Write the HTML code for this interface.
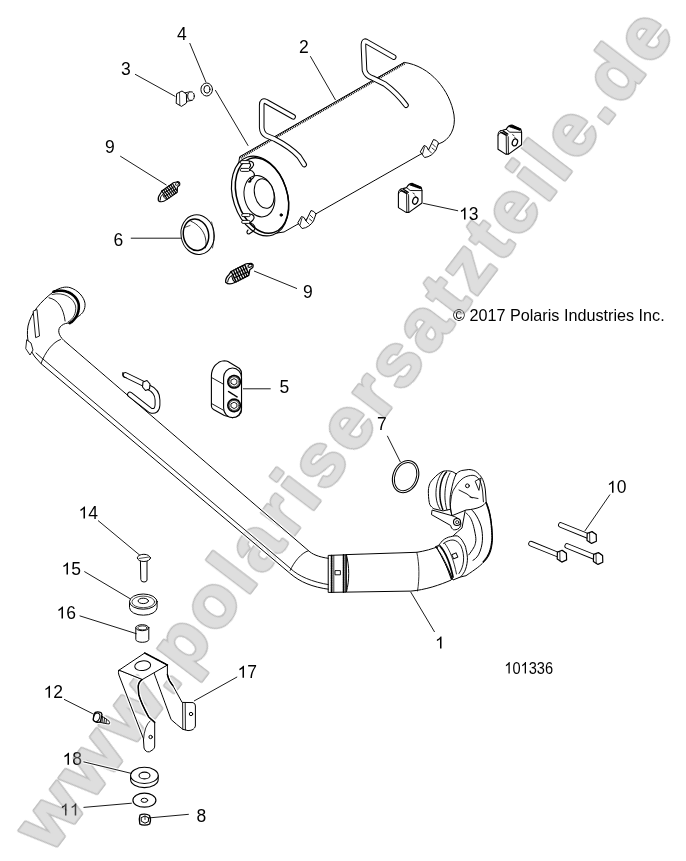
<!DOCTYPE html>
<html><head><meta charset="utf-8">
<style>
html,body{margin:0;padding:0;background:#fff;width:686px;height:861px;overflow:hidden}
svg{display:block}
#labels{will-change:transform}
</style></head><body>
<svg width="686" height="861" viewBox="0 0 686 861">
<rect width="686" height="861" fill="#fff"/>
<!-- LABELS -->
<g id="labels" font-family="Liberation Sans, sans-serif" font-size="17.5" fill="#000" opacity="0.999">
<text x="299.0" y="52.7">2</text>
<text x="121.0" y="75.1">3</text>
<text x="177.0" y="40.1">4</text>
<text x="105.0" y="152.9">9</text>
<text x="113.5" y="246.3">6</text>
<text x="303.0" y="298.2">9</text>
<path d="M0.3726,0.0000H0.2847V-0.5360Q0.2529,-0.5070 0.2014,-0.4780Q0.1499,-0.4491 0.1089,-0.4346V-0.5159Q0.1826,-0.5491 0.2378,-0.5963Q0.2930,-0.6435 0.3159,-0.6878H0.3726Z" transform="translate(459.0,219.6) scale(17.5)"/>
<text x="468.73" y="219.6">3</text>
<text x="279.5" y="393">5</text>
<text x="377.0" y="430">7</text>
<path d="M0.3726,0.0000H0.2847V-0.5360Q0.2529,-0.5070 0.2014,-0.4780Q0.1499,-0.4491 0.1089,-0.4346V-0.5159Q0.1826,-0.5491 0.2378,-0.5963Q0.2930,-0.6435 0.3159,-0.6878H0.3726Z" transform="translate(607.0,492.7) scale(17.5)"/>
<text x="616.73" y="492.7">0</text>
<path d="M0.3726,0.0000H0.2847V-0.5360Q0.2529,-0.5070 0.2014,-0.4780Q0.1499,-0.4491 0.1089,-0.4346V-0.5159Q0.1826,-0.5491 0.2378,-0.5963Q0.2930,-0.6435 0.3159,-0.6878H0.3726Z" transform="translate(78.5,518.5) scale(17.5)"/>
<text x="88.23" y="518.5">4</text>
<path d="M0.3726,0.0000H0.2847V-0.5360Q0.2529,-0.5070 0.2014,-0.4780Q0.1499,-0.4491 0.1089,-0.4346V-0.5159Q0.1826,-0.5491 0.2378,-0.5963Q0.2930,-0.6435 0.3159,-0.6878H0.3726Z" transform="translate(61.5,574.6) scale(17.5)"/>
<text x="71.23" y="574.6">5</text>
<path d="M0.3726,0.0000H0.2847V-0.5360Q0.2529,-0.5070 0.2014,-0.4780Q0.1499,-0.4491 0.1089,-0.4346V-0.5159Q0.1826,-0.5491 0.2378,-0.5963Q0.2930,-0.6435 0.3159,-0.6878H0.3726Z" transform="translate(56.5,618.5) scale(17.5)"/>
<text x="66.23" y="618.5">6</text>
<path d="M0.3726,0.0000H0.2847V-0.5360Q0.2529,-0.5070 0.2014,-0.4780Q0.1499,-0.4491 0.1089,-0.4346V-0.5159Q0.1826,-0.5491 0.2378,-0.5963Q0.2930,-0.6435 0.3159,-0.6878H0.3726Z" transform="translate(435.0,648.6) scale(17.5)"/>
<path d="M0.3726,0.0000H0.2847V-0.5360Q0.2529,-0.5070 0.2014,-0.4780Q0.1499,-0.4491 0.1089,-0.4346V-0.5159Q0.1826,-0.5491 0.2378,-0.5963Q0.2930,-0.6435 0.3159,-0.6878H0.3726Z" transform="translate(237.5,677.8) scale(17.5)"/>
<text x="247.23" y="677.8">7</text>
<path d="M0.3726,0.0000H0.2847V-0.5360Q0.2529,-0.5070 0.2014,-0.4780Q0.1499,-0.4491 0.1089,-0.4346V-0.5159Q0.1826,-0.5491 0.2378,-0.5963Q0.2930,-0.6435 0.3159,-0.6878H0.3726Z" transform="translate(43.5,697.7) scale(17.5)"/>
<text x="53.23" y="697.7">2</text>
<path d="M0.3726,0.0000H0.2847V-0.5360Q0.2529,-0.5070 0.2014,-0.4780Q0.1499,-0.4491 0.1089,-0.4346V-0.5159Q0.1826,-0.5491 0.2378,-0.5963Q0.2930,-0.6435 0.3159,-0.6878H0.3726Z" transform="translate(62.5,764.8) scale(17.5)"/>
<text x="72.23" y="764.8">8</text>
<path d="M0.3726,0.0000H0.2847V-0.5360Q0.2529,-0.5070 0.2014,-0.4780Q0.1499,-0.4491 0.1089,-0.4346V-0.5159Q0.1826,-0.5491 0.2378,-0.5963Q0.2930,-0.6435 0.3159,-0.6878H0.3726Z" transform="translate(60.0,815.6) scale(17.5)"/>
<path d="M0.3726,0.0000H0.2847V-0.5360Q0.2529,-0.5070 0.2014,-0.4780Q0.1499,-0.4491 0.1089,-0.4346V-0.5159Q0.1826,-0.5491 0.2378,-0.5963Q0.2930,-0.6435 0.3159,-0.6878H0.3726Z" transform="translate(69.73,815.6) scale(17.5)"/>
<text x="196.5" y="821.8">8</text>
<g transform="translate(504.3,673.6) scale(0.87,1)" font-size="16.8"><path d="M0.3726,0.0000H0.2847V-0.5360Q0.2529,-0.5070 0.2014,-0.4780Q0.1499,-0.4491 0.1089,-0.4346V-0.5159Q0.1826,-0.5491 0.2378,-0.5963Q0.2930,-0.6435 0.3159,-0.6878H0.3726Z" transform="translate(0.0,0) scale(16.8)"/><text x="9.34" y="0">0</text><path d="M0.3726,0.0000H0.2847V-0.5360Q0.2529,-0.5070 0.2014,-0.4780Q0.1499,-0.4491 0.1089,-0.4346V-0.5159Q0.1826,-0.5491 0.2378,-0.5963Q0.2930,-0.6435 0.3159,-0.6878H0.3726Z" transform="translate(18.68,0) scale(16.8)"/><text x="28.02" y="0">3</text><text x="37.36" y="0">3</text><text x="46.7" y="0">6</text></g>
<text x="453" y="320.8" font-size="16.2">© 2017 Polaris Industries Inc.</text>
</g>
<!-- WATERMARK -->
<g opacity="0.38" transform="translate(61.5,839.6) rotate(-52.67)" font-family="Liberation Sans, sans-serif" font-weight="bold" font-size="74.0" stroke-linejoin="round" style="font-kerning:none">
<g transform="scale(1.065,1)"><text x="-17.0 45.1 107.2" y="0" fill="#555555" stroke="#555555" stroke-width="3.9">www</text></g>
<text x="180.3 205.63 255.6 305.58 330.91 376.84 410.41 435.74 481.66 527.59 561.16 607.09 653.01 682.42 724.19 753.61 799.53 824.87 850.2 896.12 921.45 971.43" y="0" fill="#555555" stroke="#555555" stroke-width="3.9">.polarisersatzteile.de</text>
<g transform="scale(1.065,1)"><text x="-17.0 45.1 107.2" y="0" fill="#a8a8a8" stroke="#a8a8a8" stroke-width="1.1">www</text></g>
<text x="180.3 205.63 255.6 305.58 330.91 376.84 410.41 435.74 481.66 527.59 561.16 607.09 653.01 682.42 724.19 753.61 799.53 824.87 850.2 896.12 921.45 971.43" y="0" fill="#a8a8a8" stroke="#a8a8a8" stroke-width="1.1">.polarisersatzteile.de</text>
</g>
<filter id="lines" x="0" y="0" width="686" height="861" filterUnits="userSpaceOnUse" color-interpolation-filters="sRGB">
<feColorMatrix in="SourceGraphic" type="matrix" values="0 0 0 0 0  0 0 0 0 0  0 0 0 0 0  -0.3 -0.59 -0.11 1 0" result="ink"/>
<feMorphology in="ink" operator="dilate" radius="0.9" result="d"/>
<feFlood flood-color="#fff" result="f"/>
<feComposite in="f" in2="d" operator="in" result="w"/>
<feMerge><feMergeNode in="w"/><feMergeNode in="ink"/></feMerge>
</filter>
<g filter="url(#lines)">
<!-- PARTS -->
<g id="parts" fill="#fff" stroke="#000" stroke-width="1" stroke-linejoin="round" stroke-linecap="round">
<!-- ===== MUFFLER 2 ===== -->
<path d="M240,156.5 L404.2,62.4 C430,66 450,90 454,115 C456,128 450,140 439.2,143.7 L284,232 L270,234 L235,190 Z"/>
<path d="M240.5,157.6 L404.4,63.4" fill="none" stroke-width="2.4" stroke-dasharray="1 0.9" stroke-linecap="butt"/>
<!-- front face -->
<ellipse cx="260.1" cy="196" rx="27" ry="41" transform="rotate(-18 260.1 196)" stroke-width="1.2"/>
<ellipse cx="262" cy="195.5" rx="25" ry="38.8" transform="rotate(-18 262 195.5)" fill="none" stroke-width="1.5"/>
<ellipse cx="259.4" cy="196.2" rx="15" ry="21" transform="rotate(-14 259.4 196.2)"/>
<ellipse cx="264.2" cy="193.6" rx="9.6" ry="15" transform="rotate(-14 264.2 193.6)"/>
<circle cx="281.2" cy="215" r="1.2" fill="#000"/>
<!-- face clips -->
<g fill="#fff" stroke-width="0.9">
<rect x="240.2" y="160.6" width="9.5" height="3" rx="1.4"/>
<rect x="240.2" y="168.4" width="9.5" height="3" rx="1.4"/>
<path d="M249,161 C253,161 255,164 252.5,167 L249.5,170 C254,171 256,175 253,178 L248.5,182 C251,182.5 252,180 250,178 M249,163 C251,164 251,166 249.5,167.5" fill="none" stroke-width="1.1"/>
<rect x="241.6" y="213.6" width="8.5" height="3" rx="1.4"/>
<rect x="241.6" y="220.4" width="8.5" height="3" rx="1.4"/>
<path d="M249.5,214 C253.5,214 255.5,217 253,220 L250,223 C254.5,224 256.5,228 253.5,231 L249,234 C247,234 246,232 248,230" fill="none" stroke-width="1.1"/>
</g>
<!-- bottom clips -->
<g id="mclip">
<path d="M298,222.5 L301.5,216.5 L304,217.5 L306,221 L311,210.5 L313.8,211.5 L316,214 L313.5,221 C311,225 307,228 302.5,228.5 Z" stroke-width="1"/>
<path d="M302,218 L300,225 M306,221 L309,224 M310,215 L313,218 M309.5,219 L312,221" fill="none" stroke-width="0.8"/>
</g>
<use href="#mclip" transform="translate(122.5,-71)"/>
<!-- handles -->
<g fill="none" stroke-linecap="round">
<path d="M293.1,116.8 L266.3,101.7 Q261.7,99.5 261.7,105.2 L261.7,127.3 Q262,133 266,135.5 L274.5,139 Q290,147 299,156.5 L304.2,164.6" stroke="#000" stroke-width="5.6"/>
<path d="M293.1,116.8 L266.3,101.7 Q261.7,99.5 261.7,105.2 L261.7,127.3 Q262,133 266,135.5 L274.5,139 Q290,147 299,156.5 L304.2,164.6" stroke="#fff" stroke-width="3.6"/>
<path d="M393.7,57.1 L366,41.4 Q363,40 363.5,47.5 L364.5,70.2 Q366,76 372.7,78.1 L385,84.2 Q397,93 406,105.2" stroke="#000" stroke-width="5.6"/>
<path d="M393.7,57.1 L366,41.4 Q363,40 363.5,47.5 L364.5,70.2 Q366,76 372.7,78.1 L385,84.2 Q397,93 406,105.2" stroke="#fff" stroke-width="3.6"/>
</g>
<!-- ===== BOLT 3, WASHER 4 ===== -->
<path d="M184,93 L190,91.8 L192,100.4 L186,101.5 Z" stroke-width="0.9"/>
<ellipse cx="191" cy="96.1" rx="3.3" ry="4.3"/>
<path d="M177,93.5 L182,91 L186.4,94 L186.6,103 L181.5,106.4 L176.5,103.5 Z"/>
<path d="M179.5,92.5 L179.8,105" fill="none" stroke-width="0.7"/>
<ellipse cx="206.7" cy="89.5" rx="5.8" ry="6.5"/>
<ellipse cx="206.9" cy="89.3" rx="3" ry="3.8"/>
<path d="M215.5,90.4 L248,145.5" fill="none" stroke-width="0.9"/>
<!-- ===== SPRINGS 9 ===== -->
<g transform="translate(168.4,192.2) rotate(-29) scale(0.86)">
<path d="M-15,3 Q-14,-1 -9,-3 L-6,-5 L8,-6.5 Q11,-7.5 13,-6 L15.5,-5.5 Q18,-3.5 15.5,-1 L12,0 L9,5 L-6,6.5 Q-13,7.5 -15,3 Z" stroke-width="1.3"/>
<path d="M-6,-5 L-5,6.5 M-3.5,-5.3 L-2.5,6.3 M-1,-5.6 L0,6 M1.5,-5.9 L2.5,5.8 M4,-6.2 L5,5.5 M6.5,-6.4 L7.2,5.2 M9,-6.6 L9.5,3.5" fill="none" stroke-width="1.4"/>
<path d="M-6,-1.5 L10,-2.5 M-6,2 L9.5,1.2" fill="none" stroke-width="1"/>
<path d="M-13,3.5 Q-11,-0.5 -7,-1 Q-8,3 -6.5,6" fill="none" stroke-width="1"/>
<ellipse cx="13.6" cy="-3.6" rx="2.2" ry="1.4" fill="#fff" stroke-width="1"/>
</g>
<g transform="translate(238.6,274) rotate(-21)">
<path d="M-15,3 Q-14,-1 -9,-3 L-6,-5 L8,-6.5 Q11,-7.5 13,-6 L15.5,-5.5 Q18,-3.5 15.5,-1 L12,0 L9,5 L-6,6.5 Q-13,7.5 -15,3 Z" stroke-width="1.3"/>
<path d="M-6,-5 L-5,6.5 M-3.5,-5.3 L-2.5,6.3 M-1,-5.6 L0,6 M1.5,-5.9 L2.5,5.8 M4,-6.2 L5,5.5 M6.5,-6.4 L7.2,5.2 M9,-6.6 L9.5,3.5" fill="none" stroke-width="1.4"/>
<path d="M-6,-1.5 L10,-2.5 M-6,2 L9.5,1.2" fill="none" stroke-width="1"/>
<path d="M-13,3.5 Q-11,-0.5 -7,-1 Q-8,3 -6.5,6" fill="none" stroke-width="1"/>
<ellipse cx="13.6" cy="-3.6" rx="2.2" ry="1.4" fill="#fff" stroke-width="1"/>
</g>
<!-- ===== RING 6 ===== -->
<ellipse cx="197.6" cy="234.6" rx="16.6" ry="19.9" transform="rotate(-10 197.6 234.6)"/>
<ellipse cx="196" cy="234.8" rx="12.6" ry="15.8" transform="rotate(-12 196 234.8)" stroke-width="1.5"/>
<path d="M190.8,221.2 C198,224 204,231 205.4,238 C206.5,243 206,246 205.4,248" fill="none" stroke-width="0.8"/>
<path d="M211.6,222 C214,230 214.5,240 212.5,248" fill="none" stroke-width="0.7"/>
<path d="M184.5,227.5 L190,225.5" fill="none" stroke-width="0.7"/>
<!-- ===== RUBBER 13 ===== -->
<g id="rub">
<path d="M398.4,193.5 C398.4,190.5 400.5,188.6 403,188.6 L406.6,187.6 C408,185 410,183.4 412.4,183.4 L420,186.8 C421.6,187.8 422,189 422,190.6 L422,203 L409,212.4 L406,212.4 L400,208.6 L398.4,207.6 Z" stroke-width="1.1"/>
<path d="M406.6,193.2 L406.8,212.2 M408.6,195.5 L408.8,212.3" fill="none" stroke-width="0.9"/>
<path d="M398.6,193.6 C400,190 404,189.4 408.4,194.6 M406.6,187.6 L410.2,190.5 L422,190.6" fill="none" stroke-width="0.9"/>
<path d="M401,190.4 L406.4,193.4 M403.4,189.2 L408.2,192.4" fill="none" stroke-width="1.3"/>
<path d="M410.2,184.8 L420.2,188.4 M411.8,184 L421,187.5" fill="none" stroke-width="1.4" stroke-dasharray="1.4 0.9"/>
<ellipse cx="415.3" cy="200.7" rx="2.5" ry="3.6" transform="rotate(20 415.3 200.7)" fill="none" stroke-width="1.3"/>
<path d="M413,193 L414.5,194 M415,196 L416,196.5" fill="none" stroke-width="0.8"/>
</g>
<use href="#rub" transform="translate(99.6,-58.3)"/>
<!-- ===== PIPE 1 ===== -->
<path d="M53.5,291.7 C40,302 31,313 28,326 C26,338 29,349 35,357 L41,363.6 L290.2,573.5 C300,582 312,587 329.5,589.4 L329.5,558.5 C318,557 312,554 308.5,550.7 L64,340.6 C58,335 57,329 61.6,325.5 C64,323.5 67,323 69.8,323.1 C76,319.5 79.8,312 78.6,304 C76.5,295 66,288 53.5,291.7 Z"/>
<path d="M36,353 L41,357.4 L290.2,568.2 C298,576 312,582 329.5,584.8" fill="none" stroke-width="0.9"/>
<path d="M49,297.8 C58,299.5 63.5,308 65.1,321" fill="none" stroke-width="0.9"/>
<path d="M60.5,339.5 C53,342 45,352 41,363.6" fill="none" stroke-width="0.9"/>
<path d="M308.5,550.7 C301,553 294,562 290.2,570.4" fill="none" stroke-width="0.9"/>
<!-- inlet flange and cap -->
<path d="M53.5,291.7 C60,287 66,286.5 70,287.6 C78,290 84,297 85,303.3 C85.5,309 83,314 78,316.5 L69.8,323.1 C77,318 80,310 78.6,303 C76.5,295 68,288 53.5,291.7 Z"/>
<path d="M53.5,291.7 C66,288 76.5,295 78.6,304 C79.8,312 76,319.5 69.8,323.1" fill="none" stroke-width="2.6" stroke-dasharray="1.2 0.6"/>
<path d="M52,294.5 C64,291.5 73.5,298 75.6,306 C76.5,313 73.5,319 68,322" fill="none" stroke-width="0.8"/>
<!-- inlet pins -->
<path d="M33.5,311 L37,309.5 L39.5,336 L36,337.5 Z" stroke-width="0.9"/>
<path d="M27,340 L31,343 L33,350 L30,355 L26,349 Z" stroke-width="0.9"/>
<!-- clamp at bend -->
<path d="M328.6,555.4 L346.4,554.8 L346.4,592.1 L328.6,592.4 Z"/>
<path d="M331.6,555.6 L331.6,592.2 M343.6,555 L343.6,592.1" fill="none" stroke-width="1.8" stroke-dasharray="1.6 0.8"/>
<path d="M333.8,555.5 L333.8,592.2 M345.6,555 L345.6,592.1" fill="none" stroke-width="0.8"/>
<rect x="335.4" y="570.6" width="5" height="4.2" stroke-width="0.9"/>
<!-- hose -->
<path d="M346.4,554.6 L416.8,552.3 C425,551 432,549 439.3,546.2 L451.5,579.9 C440,585 425,590 410.7,591.1 L346.4,592.1 C349.5,580 349.5,567 346.4,554.6 Z"/>
<path d="M416.8,552.3 C419.5,564 419.5,579 417.5,591" fill="none" stroke-width="0.8"/>
<!-- right clamp -->
<path d="M436,546.5 C440,544.5 444,543.5 447.5,541.5 C453,548 458,560 458,570 L452.5,579 C448,570 443,558 436,546.5 Z"/>
<path d="M447.5,541.5 C450.5,539.5 453.5,538.5 456.5,539.5 C462,546 466,558 465,566 C463,571 460,574 458,575" fill="none" stroke-width="0.9"/>
<path d="M440,545 C446,553 450,564 452,575" fill="none" stroke-width="1.8" stroke-dasharray="1.4 0.8"/>
<path d="M445,543 C451,551 455,562 456,573" fill="none" stroke-width="0.8"/>
<rect x="453.6" y="555.4" width="5" height="5" transform="rotate(-25 456 558)" stroke-width="0.9"/>
<!-- elbow -->
<!-- tube -->
<path d="M446,545 C450,538 456,533 462,528 L466,506 L486.2,501.8 C489.7,510 491.8,520 492.5,538 C492,550 489.7,556 484.1,561.7 C480,566 476,569 466,575.7 L452,579 Z"/>
<path d="M466,506 C472,508 478,516 481.3,526.9 C483,535 483.5,545 478.5,554.8 C476.5,558 474.5,559.5 473,560.3" fill="none" stroke-width="1"/>
<path d="M466,513 C470,516 473,520 475.7,536.7 C476.5,542 474.4,546.4 474.4,546.4 C472,551 470,553 468.8,554.8" fill="none" stroke-width="1"/>
<path d="M486.2,503 C489.7,512 491.8,522 492,538 C491.5,550 488,557 483,562" fill="none" stroke-width="1.5" stroke-dasharray="1.4 1"/>
<!-- boss -->
<path d="M456.2,473.9 L452.8,471.8 C449,470.5 446,470.6 443.7,471.1 C440,472.5 437.5,474.5 435.3,476.7 C432,480 430.5,482 429.8,483.7 C428.5,487 428.2,490 428.4,493.4 C428.5,498 429,502 429.8,504.6 C431,506.5 432.5,508 433.9,508.8 L443,510.9 L456,508 Z"/>
<path d="M443.7,471.1 C438,476 435.5,486 436,496 C436.5,502 438,506 440,509" fill="none" stroke-width="0.9"/>
<path d="M446.5,472 C441,478 439.5,488 440,497 C440.5,503 441.5,506 443,510" fill="none" stroke-width="1.5" stroke-dasharray="1.2 0.8"/>
<path d="M450,473 C446,480 444.5,490 445,499 C445.5,504 446,507 447,510" fill="none" stroke-width="0.9"/>
<!-- flange -->
<path d="M456.2,473.9 C458,472 460,471 461.8,470.5 L468.8,469.5 C472,469.6 475,470.5 477.1,472.5 C480,475 481.5,477 482.7,479.5 C484.5,484 485.3,488 485.5,492 L486.2,501.8 C484,506 478,509 466,510 L452,515.7 C449.5,508 449.5,498 451,492 C452.5,484 454,478 456.2,473.9 Z"/>
<path d="M452,515.7 C450.5,510 450,505 450.7,501.8 C451.5,494 452.5,491 454.8,487.9 C457.5,483 460,480.5 463.2,478.1 C466.5,476 470,475.3 473,475.3 C476,475.5 478.5,478 480,480.9 C481.5,484 482.2,488 482.7,492 L483.4,501.8" fill="none" stroke-width="0.9"/>
<circle cx="467.4" cy="485.8" r="1.9" fill="none" stroke-width="1"/>
<path d="M475.5,481 L481,478 L479,490 Z M459,490 L467,494 L472,498 M470,497 L478,498.5" fill="none" stroke-width="0.9"/>
<!-- lug -->
<path d="M432.5,510.2 L452,515.7 C456,517 459,518.5 460.4,521.3 C461.5,524 460.5,527 459,528.3 C457,529.8 455,530 453.4,529.7 C452,529 451,527.5 450.7,525.5 L431.8,514.8 Z"/>
<circle cx="457" cy="522" r="3.5" stroke-width="1.1"/>
<circle cx="457.2" cy="522.2" r="1.6" fill="none" stroke-width="0.8"/>
<!-- right clamp -->
<path d="M437,548 C439,544.5 441,542.5 442.3,540.8 C445,538.5 448,537 450.7,536.7 C453,536 455.5,535.6 457.6,536 C460,537.5 462,539.5 463.2,542.2 C465,545 465.8,547 466,549.2 C467,553 467.6,557 467.4,560.3 C467,565 466,568.5 464.6,571.5 C463,574 462,575.6 460.4,577 L453,580 C449,570 444,558 437,548 Z"/>
<path d="M443.5,543.5 C446.5,541 450,540 453,540 C456,540.3 459,542.5 461,546 C463,550.5 464,556 463.5,561 C463,566 461.5,570 459,573.5" fill="none" stroke-width="0.9"/>
<path d="M440,546 C446,553 450,563 453,577" fill="none" stroke-width="1.8" stroke-dasharray="1.3 0.8"/>
<path d="M444.5,543 C450,550 454,561 456.5,574" fill="none" stroke-width="0.8"/>
<rect x="452.6" y="553.5" width="4.6" height="4.6" transform="rotate(-25 455 556)" stroke-width="0.9"/>
<!-- ===== PIN CLIP (near pipe) ===== -->
<g fill="none" stroke-linecap="round">
<path d="M148,387 Q157.5,391 157.5,400 L157.5,405 Q157,412.5 150.5,410.5 L130,394.5" stroke="#000" stroke-width="5.8"/>
<path d="M148,387 Q157.5,391 157.5,400 L157.5,405 Q157,412.5 150.5,410.5 L130,394.5" stroke="#fff" stroke-width="3.8"/>
<path d="M125.5,375 L144,384" stroke="#000" stroke-width="5.8"/>
<path d="M125.5,375 L144,384" stroke="#fff" stroke-width="3.8"/>
</g>
<path d="M143,382 L147,380.5 L150,384 L149.5,389 L145.5,390.5 L142.5,387 Z" stroke-width="1.1"/>
<path d="M123,372.5 C122,375 123.5,377.5 126,377.5" fill="none" stroke-width="1.2"/>
<!-- ===== BRACKET 5 ===== -->
<path d="M211.4,376 C211.4,368 217,361 224.4,360.7 C226,360.7 227,361 228,361.5 L239.5,368.5 C241,370 241.5,372 241.5,374 L241.5,410 C241.5,414 238,417.6 232.5,417.6 L224.4,415.5 L213.5,409.5 C212,408.5 211.4,407.5 211.4,406 Z" stroke-width="1.1"/>
<path d="M212,377.8 L223.6,384.3 M212,403.8 L223.6,410.3" fill="none" stroke-width="0.9"/>
<rect x="223.6" y="368" width="17.9" height="49.6" rx="8.9" ry="9.5" stroke-width="1.1"/>
<circle cx="234.1" cy="381.8" r="6.2" stroke-width="1.7" stroke-dasharray="1.6 0.7"/>
<circle cx="234.1" cy="381.8" r="5" fill="none" stroke-width="0.7"/>
<path d="M231.3,380 L234.1,378.6 L236.9,380.2 L236.9,383.4 L234.1,385 L231.3,383.4 Z" fill="none" stroke-width="0.9"/>
<circle cx="234.1" cy="405.4" r="6.2" stroke-width="1.7" stroke-dasharray="1.6 0.7"/>
<circle cx="234.1" cy="405.4" r="5" fill="none" stroke-width="0.7"/>
<path d="M231.3,403.6 L234.1,402.2 L236.9,403.8 L236.9,407 L234.1,408.6 L231.3,407 Z" fill="none" stroke-width="0.9"/>
<path d="M228.5,391.5 L237.5,397.2" fill="none" stroke-width="1.4" stroke-dasharray="1.2 0.6"/>
<!-- ===== RING 7 ===== -->
<ellipse cx="405.6" cy="476.6" rx="12.6" ry="16.6" transform="rotate(22 405.6 476.6)" fill="none" stroke-width="1.1"/>
<ellipse cx="405.6" cy="476.6" rx="10.6" ry="14.6" transform="rotate(22 405.6 476.6)" fill="none" stroke-width="0.9"/>
<!-- ===== BOLTS 10 ===== -->
<g id="bolt">
<path d="M560.8,525 L587.5,535.8" stroke="#000" stroke-width="5.6" stroke-linecap="round" fill="none"/>
<path d="M560.8,525 L587.5,535.8" stroke="#fff" stroke-width="3.8" stroke-linecap="round" fill="none"/>
<path d="M587.2,533.4 L592,531.6 L596.2,534.6 L596.4,541.2 L591.6,543.4 L587,540.4 Z" stroke-width="1.2"/>
<path d="M589.6,532.6 L589.8,542.2 M592,531.8 L596.2,534.6" fill="none" stroke-width="0.8"/>
</g>
<use href="#bolt" transform="translate(-29.8,18.7)"/>
<use href="#bolt" transform="translate(6.4,21)"/>
<!-- ===== PIN 14 ===== -->
<path d="M140.8,560 L147,560 L147,580 Q147,582 144,582 Q140.8,582 140.8,580 Z"/>
<ellipse cx="143.9" cy="557.9" rx="6.6" ry="3.6"/>
<path d="M139,558.5 L149,557" fill="none" stroke-width="0.7"/>
<!-- ===== WASHER 15 ===== -->
<path d="M129.5,601.6 L129.5,607.6 A13.8,7.6 0 0 0 157.1,607.6 L157.1,601.6 Z"/>
<ellipse cx="143.3" cy="601.6" rx="13.8" ry="7.6"/>
<ellipse cx="143.3" cy="601.9" rx="11.4" ry="5.8" fill="none" stroke-width="0.7"/>
<ellipse cx="143.3" cy="600.9" rx="5.2" ry="2.7"/>
<!-- ===== SPACER 16 ===== -->
<path d="M135.8,627.7 L135.8,639.5 A6.5,2.8 0 0 0 148.8,639.5 L148.8,627.7 Z"/>
<ellipse cx="142.3" cy="627.7" rx="6.5" ry="3"/>
<ellipse cx="142.3" cy="627.9" rx="4.6" ry="2" fill="none" stroke-width="0.8"/>
<!-- ===== BRACKET 17 ===== -->
<path d="M154,671.7 L167.4,665 L167.4,674.4 Q169,681 172.8,685.5 L182.1,702.4 L193,702.6 Q195.6,703.5 195.4,706 L195.4,726 Q194.5,730.5 188,730.6 L182.8,729.3 Q176,724 171.4,719.8 Z"/>
<path d="M182.6,703 L182.8,729.2 M185.2,703.2 L185.4,729.8" fill="none" stroke-width="0.9"/>
<path d="M167.4,674.4 Q168,680 172.8,685.5" fill="none" stroke-width="1.4"/>
<circle cx="191" cy="714" r="1.7" fill="none" stroke-width="1"/>
<path d="M118.7,670.4 L144.7,653 L167.4,665 L142,679.7 Z"/>
<path d="M144.7,653 L167.4,665" fill="none" stroke-width="1.6" stroke-dasharray="1.3 1"/>
<ellipse cx="142.7" cy="665.7" rx="8" ry="4.8" transform="rotate(-8 142.7 665.7)"/>
<path d="M118.7,670.4 Q118,673 118.9,675 L143.4,738.5 L144,748 Q145.5,752.5 149.5,751.8 L153.2,749.5 Q154.8,748 154.7,746 L154.7,722.4 L148.7,717 Q141,703 138.7,694.4 L138.2,685 Q139,681.5 142,679.7 Z"/>
<path d="M142,679.7 Q138.5,682 138.2,687 L138.7,694.4 Q141,703 148.7,717 L154.7,722.4" fill="none" stroke-width="1.5"/>
<path d="M143.6,738.8 Q144.5,726 150,721" fill="none" stroke-width="0.8"/>
<circle cx="150.6" cy="737" r="1.7" fill="none" stroke-width="1"/>
<!-- ===== SCREW 12 ===== -->
<path d="M98.5,714 L107.8,720 Q110.8,722.4 109.2,724 L106,723.6 L99.5,722.2 Z" stroke-width="0.9"/>
<path d="M100.5,715.5 L100,721.5 M102.5,716.8 L102,722.5 M104.5,718 L104,723 M106.5,719.3 L106,723.4" fill="none" stroke-width="0.9"/>
<path d="M94,714 C95,711.8 98,711.6 101,712.5 L102,714.5 L100.5,721.5 C99,723 95,722.8 93.2,720 Z" stroke-width="1.3"/>
<ellipse cx="96.6" cy="717.4" rx="3" ry="4.4" transform="rotate(20 96.6 717.4)" fill="none" stroke-width="1"/>
<!-- ===== WASHER 18 ===== -->
<path d="M130.6,775.4 L130.6,779.5 A13.8,8.1 0 0 0 158.2,779.5 L158.2,775.4 Z" stroke-width="1.1"/>
<ellipse cx="144.4" cy="775.4" rx="13.8" ry="8.1" stroke-width="1.1"/>
<ellipse cx="144.5" cy="775.5" rx="5.5" ry="3.4" stroke-width="1.1"/>
<!-- ===== WASHER 11 ===== -->
<ellipse cx="144.4" cy="800.2" rx="11.5" ry="7" stroke-width="1.2"/>
<ellipse cx="144.4" cy="800.3" rx="3.3" ry="2.1" stroke-width="1"/>
<!-- ===== NUT 8 ===== -->
<path d="M140,815 C142,813.8 147,813.8 149.5,815.5 C150.6,818 150.5,822 149.6,824 C147,825.6 142,825.6 139.8,824 C139,821 139,818 140,815 Z" stroke-width="1.3"/>
<path d="M141.5,817.5 L145,816 L148.5,817.8 L148.4,821.6 L145,823.2 L141.6,821.4 Z" fill="none" stroke-width="1"/>
<path d="M145,816 L145,819.5" fill="none" stroke-width="0.8"/>
</g>
<!-- LEADERS -->
<g id="leaders" stroke="#000" stroke-width="0.9" fill="none">
<path d="M310.3,56.2L335.5,100"/>
<path d="M135,74.2L175.4,96.5"/>
<path d="M189.7,43L206,82.3"/>
<path d="M120.2,156.1L166.5,185.1"/>
<path d="M130.8,238.2L181.8,238.2"/>
<path d="M254,271L297,288.6"/>
<path d="M423.1,203.3L458.1,210.8"/>
<path d="M243,388.8L270.7,388.8"/>
<path d="M387.3,435.8L400.4,462"/>
<path d="M610,494.5L584.7,531.2"/>
<path d="M98,520.5L139.8,555.2"/>
<path d="M84.3,571.5L130.6,599"/>
<path d="M79.6,615.8L136.7,633.8"/>
<path d="M410.6,591.8L434.6,632"/>
<path d="M237.2,676.9L194,701"/>
<path d="M64,699.3L92.9,713.8"/>
<path d="M83.5,761.8L131.8,773.5"/>
<path d="M83.5,807.4L131.8,803.2"/>
<path d="M147.9,818L188.8,814.3"/>
</g>
</g>
</svg>
</body></html>
